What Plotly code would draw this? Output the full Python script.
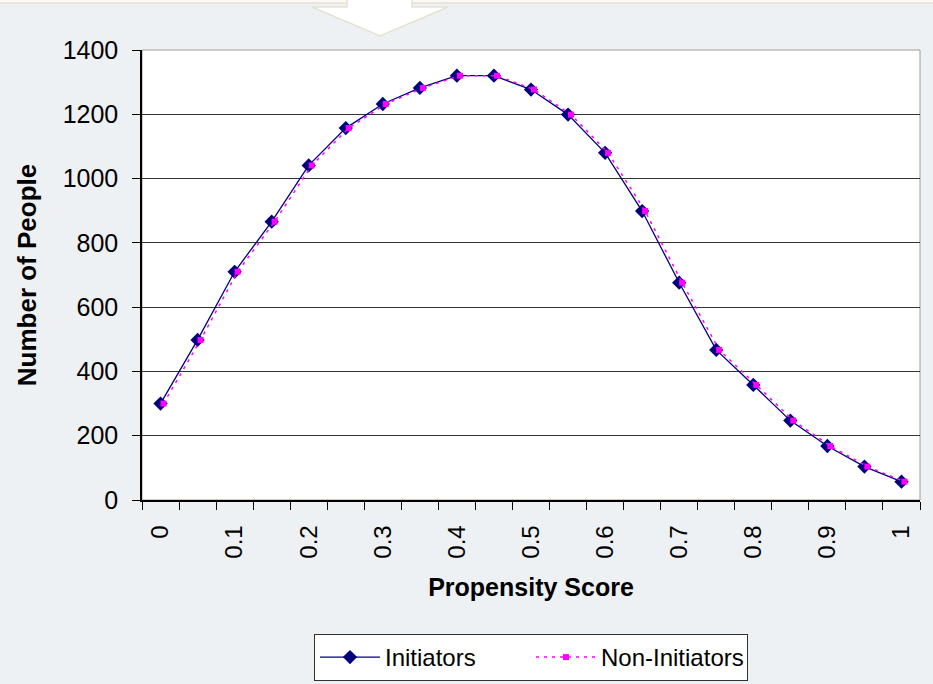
import plotly.graph_objects as go

# Propensity score bins and head counts per group
scores = [0, 0.05, 0.1, 0.15, 0.2, 0.25, 0.3, 0.35, 0.4, 0.45, 0.5,
          0.55, 0.6, 0.65, 0.7, 0.75, 0.8, 0.85, 0.9, 0.95, 1]
initiators = [300, 498, 710, 866, 1041, 1157, 1232, 1282, 1320, 1320, 1277,
              1199, 1080, 899, 676, 467, 358, 247, 168, 104, 57]
non_initiators = [300, 498, 710, 866, 1041, 1157, 1232, 1282, 1320, 1320, 1277,
                  1199, 1080, 899, 676, 467, 358, 247, 168, 104, 57]

tick_vals = [0, 0.1, 0.2, 0.3, 0.4, 0.5, 0.6, 0.7, 0.8, 0.9, 1]
tick_text = ["0", "0.1", "0.2", "0.3", "0.4", "0.5", "0.6", "0.7", "0.8", "0.9", "1"]
boundaries = [-0.025 + 0.05 * i for i in range(22)]

FONT = "Arial, Liberation Sans, sans-serif"
W, H = 933, 684
L, R, T, B = 142, 920, 50, 500  # plot area in pixels


def px(x):
    return (x - L) / (R - L)


def py(y):
    return (B - y) / (B - T)


fig = go.Figure()

fig.add_trace(go.Scatter(
    x=scores, y=non_initiators, name="Non-Initiators", xaxis="x2",
    mode="lines+markers",
    line=dict(color="#ff00ff", width=1.5, dash="3px,5px"),
    marker=dict(symbol="square", size=6, color="#ff00ff"),
))
fig.add_trace(go.Scatter(
    x=scores, y=initiators, name="Initiators",
    mode="lines+markers",
    line=dict(color="#000080", width=1.3),
    marker=dict(symbol="diamond", size=11, color="#000080"),
))

shapes = [
    # plot-area frame
    dict(type="rect", xref="paper", yref="paper", x0=0, x1=1, y0=0, y1=1,
         line=dict(color="#9a9a9a", width=1), layer="below"),
    # band at the top of the page
    dict(type="rect", xref="paper", yref="paper",
         x0=px(-5), x1=px(W + 5), y0=py(-10), y1=py(3),
         fillcolor="#fbfaf6", line=dict(color="#e6e2d2", width=1.5)),
    # downward arrow
    dict(type="path", xref="paper", yref="paper",
         path=(f"M {px(347)} {py(-2)} L {px(347)} {py(7)} L {px(312)} {py(7)} "
               f"L {px(380)} {py(36)} L {px(448)} {py(7)} L {px(412)} {py(7)} "
               f"L {px(412)} {py(-2)} Z"),
         fillcolor="#ffffff", line=dict(color="#e6e2d2", width=1.5)),
]

fig.update_layout(
    width=W, height=H,
    margin=dict(l=L, r=W - R, t=T, b=H - B, autoexpand=False),
    paper_bgcolor="#eef1f3",
    plot_bgcolor="#ffffff",
    font=dict(family=FONT, size=24, color="#000000"),
    showlegend=True,
    legend=dict(
        orientation="h", x=0.5, xanchor="center", y=py(634), yanchor="top",
        bgcolor="#ffffff", bordercolor="#333333", borderwidth=1,
        font=dict(size=24), traceorder="reversed",
        itemwidth=60, entrywidth=141,
    ),
    xaxis=dict(
        range=[-0.025, 1.025], tickmode="array", tickvals=tick_vals,
        ticktext=tick_text, tickangle=-90, ticks="", showgrid=False,
        zeroline=False, showline=True, linecolor="#000000", linewidth=1.5,
        minor=dict(tickmode="array", tickvals=boundaries, ticks="outside",
                   ticklen=8, tickcolor="#000000", tickwidth=1, showgrid=False),
        tickfont=dict(size=24), ticklabelstandoff=14, automargin=False,
        title=dict(text="<b>Propensity Score</b>", font=dict(size=25), standoff=21),
    ),
    xaxis2=dict(
        range=[-0.025 - 0.004, 1.025 - 0.004], overlaying="x", visible=False,
    ),
    yaxis=dict(
        range=[0, 1400], dtick=200, ticks="outside", ticklen=8,
        tickcolor="#000000", showgrid=True, gridcolor="#333333", gridwidth=1,
        zeroline=False, showline=True, linecolor="#000000", linewidth=1.5,
        tickfont=dict(size=25), ticklabelstandoff=9, automargin=False,
        title=dict(text="<b>Number of People</b>", font=dict(size=26), standoff=19),
    ),
    shapes=shapes,
)

fig.write_html("out.html")
